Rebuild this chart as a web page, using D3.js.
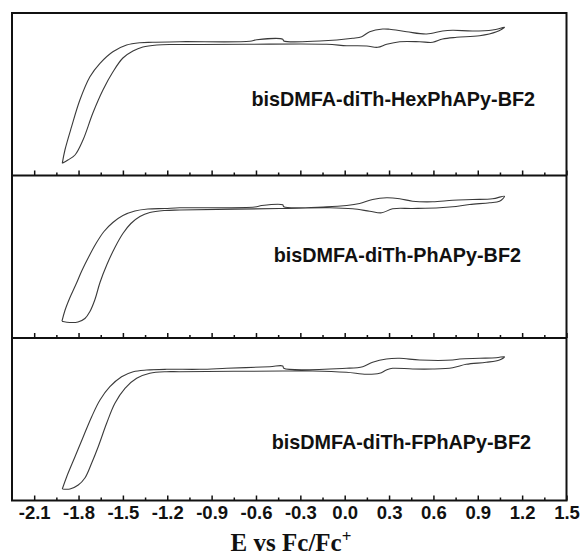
<!DOCTYPE html>
<html>
<head>
<meta charset="utf-8">
<script src="https://cdn.jsdelivr.net/npm/d3@7"></script>
<style>
body { margin: 0; background: #fff; }
</style>
</head>
<body>
<script>
// compound names, one per panel (top to bottom)
var names = ["bisDMFA-diTh-HexPhAPy-BF2", "bisDMFA-diTh-PhAPy-BF2", "bisDMFA-diTh-FPhAPy-BF2"];

// cyclic voltammograms: potential (V vs Fc/Fc+) and relative current
var potential1 = [-1.910, -1.892, -1.847, -1.791, -1.723, -1.655, -1.568, -1.475, -1.385, -1.297,
  -1.115, -0.642, -0.595, -0.419, -0.412, -0.169, 0.054, 0.115, 0.169, 0.257, 0.304, 0.419,
  0.554, 0.662, 0.730, 0.865, 1.000, 1.081,
  1.027, 0.912, 0.757, 0.662, 0.595, 0.507, 0.372, 0.284, 0.223, 0.149, 0.014, -0.122,
  -0.662, -0.980, -1.162, -1.270, -1.365, -1.432, -1.500, -1.568, -1.635, -1.703, -1.770,
  -1.824, -1.872];
var current1 = [-1.173, -1.04, -0.807, -0.54, -0.307, -0.173, -0.057, 0.01, 0.033, 0.037,
  0.043, 0.047, 0.062, 0.067, 0.05, 0.05, 0.077, 0.093, 0.143, 0.17, 0.167, 0.143,
  0.12, 0.15, 0.157, 0.15, 0.16, 0.187,
  0.143, 0.103, 0.087, 0.07, 0.037, 0.043, 0.043, 0.017, -0.013, 0, 0.003, 0.017,
  0.017, 0.015, 0.015, 0.01, -0.01, -0.05, -0.12, -0.26, -0.44, -0.67, -0.94,
  -1.09, -1.14];

var potential2 = [-1.912, -1.892, -1.858, -1.818, -1.777, -1.730, -1.682, -1.628, -1.568, -1.500,
  -1.419, -1.331, -1.216, -1.115, -0.608, -0.561, -0.419, -0.412, -0.122, 0.014, 0.101, 0.189,
  0.284, 0.372, 0.459, 0.595, 0.730, 0.865, 1.000, 1.081,
  1.047, 0.980, 0.845, 0.730, 0.642, 0.459, 0.324, 0.250, 0.169, 0.054, -0.101, -0.439,
  -1.115, -1.216, -1.318, -1.385, -1.446, -1.500, -1.554, -1.608, -1.655, -1.689, -1.723,
  -1.757, -1.804, -1.858, -1.905];
var current2 = [-1.127, -1.02, -0.89, -0.76, -0.62, -0.48, -0.35, -0.23, -0.14, -0.07,
  -0.025, -0.005, 0, 0.007, 0.015, 0.03, 0.037, 0.017, 0.017, 0.03, 0.05, 0.09,
  0.107, 0.097, 0.073, 0.067, 0.083, 0.09, 0.097, 0.123,
  0.073, 0.057, 0.04, 0.017, 0.007, 0, -0.003, -0.043, -0.027, -0.003, 0.007, 0,
  -0.015, -0.02, -0.04, -0.08, -0.15, -0.25, -0.39, -0.56, -0.74, -0.91, -1.03,
  -1.10, -1.135, -1.14, -1.13];

var potential3 = [-1.910, -1.880, -1.824, -1.768, -1.711, -1.655, -1.588, -1.509, -1.430, -1.340,
  -1.205, -0.980, -0.799, -0.507, -0.419, -0.412, 0.011, 0.122, 0.189, 0.282, 0.372, 0.507,
  0.730, 0.777, 0.912, 1.025, 1.081,
  1.047, 0.957, 0.822, 0.730, 0.595, 0.459, 0.324, 0.282, 0.236, 0.147, 0.011, -0.216,
  -0.419, -1.115, -1.205, -1.318, -1.407, -1.486, -1.554, -1.610, -1.667, -1.711, -1.757,
  -1.802, -1.858];
var current3 = [-1.18, -1.057, -0.857, -0.657, -0.457, -0.29, -0.157, -0.057, -0.007, 0.01,
  0.017, 0.017, 0.027, 0.043, 0.05, 0.027, 0.027, 0.043, 0.087, 0.12, 0.127, 0.11,
  0.11, 0.12, 0.127, 0.133, 0.143,
  0.11, 0.087, 0.067, 0.033, 0.02, 0.02, 0.027, 0.01, -0.023, -0.033, -0.013, 0,
  0, -0.007, -0.007, -0.023, -0.073, -0.173, -0.323, -0.523, -0.757, -0.92, -1.07,
  -1.14, -1.18];

var majorTicks = [-2.1, -1.8, -1.5, -1.2, -0.9, -0.6, -0.3, 0.0, 0.3, 0.6, 0.9, 1.2, 1.5];
var minorTicks = [-1.95, -1.65, -1.35, -1.05, -0.75, -0.45, -0.15, 0.15, 0.45, 0.75, 1.05, 1.35];

var width = 582;
var height = 556;
var plotLeft = 12, plotRight = 566.5, plotTop = 13, panelH = 162.5;
var labelPos = [[535, 106], [521, 262], [531, 449]];

var svg = d3.select("body")
  .append("svg")
  .attr("width", width)
  .attr("height", height);

var x = d3.scaleLinear().domain([-2.25, 1.5]).range([plotLeft, plotRight]);

var series = [[potential1, current1], [potential2, current2], [potential3, current3]];

series.forEach(function (s, i) {
  var y0 = plotTop + i * panelH;
  var y = d3.scaleLinear().domain([-1.295, 0.33]).range([y0 + panelH, y0]);
  var pts = s[0].map(function (e, j) { return [e, s[1][j]]; });
  pts.push(pts[0]);

  var line = d3.line()
    .x(function (d) { return x(d[0]); })
    .y(function (d) { return y(d[1]); })
    .curve(d3.curveCatmullRom.alpha(0.5));

  svg.append("path")
    .datum(pts)
    .attr("d", line)
    .attr("fill", "none")
    .attr("stroke", "#3a3a3a")
    .attr("stroke-width", 1.1);

  // inward ticks along the bottom of every panel
  var major = svg.append("g")
    .attr("transform", "translate(0," + (y0 + panelH) + ")")
    .call(d3.axisTop(x).tickValues(majorTicks).tickSize(5).tickFormat(""));
  var minor = svg.append("g")
    .attr("transform", "translate(0," + (y0 + panelH) + ")")
    .call(d3.axisTop(x).tickValues(minorTicks).tickSize(3).tickFormat(""));
  [major, minor].forEach(function (g) {
    g.select(".domain").remove();
    g.selectAll("line").attr("stroke", "#111").attr("stroke-width", 1.5);
  });

  svg.append("text")
    .attr("x", labelPos[i][0])
    .attr("y", labelPos[i][1])
    .attr("text-anchor", "end")
    .attr("font-family", "'Liberation Sans', Arial, sans-serif")
    .attr("font-weight", "bold")
    .attr("font-size", "19.8px")
    .attr("fill", "#111")
    .text(names[i]);

  if (i > 0) {
    svg.append("line")
      .attr("x1", plotLeft).attr("x2", plotRight)
      .attr("y1", y0).attr("y2", y0)
      .attr("stroke", "#111").attr("stroke-width", 2);
  }
});

svg.append("rect")
  .attr("x", plotLeft)
  .attr("y", plotTop)
  .attr("width", plotRight - plotLeft)
  .attr("height", panelH * 3)
  .attr("fill", "none")
  .attr("stroke", "#111")
  .attr("stroke-width", 2);

var xLabels = svg.append("g")
  .attr("transform", "translate(0," + (plotTop + panelH * 3) + ")")
  .call(d3.axisBottom(x).tickValues(majorTicks).tickSize(0).tickPadding(5)
    .tickFormat(function (d) { return d.toFixed(1); }));
xLabels.select(".domain").remove();
xLabels.selectAll("text")
  .attr("font-family", "'Liberation Sans', Arial, sans-serif")
  .attr("font-weight", "bold")
  .attr("font-size", "18.5px")
  .attr("fill", "#111");

var title = svg.append("text")
  .attr("x", 291)
  .attr("y", 551)
  .attr("text-anchor", "middle")
  .attr("font-family", "'Liberation Serif', 'Times New Roman', serif")
  .attr("font-weight", "bold")
  .attr("font-size", "25px")
  .attr("fill", "#111");
title.append("tspan").text("E vs Fc/Fc");
title.append("tspan").attr("dy", -9).attr("font-size", "17px").text("+");
</script>
</body>
</html>
